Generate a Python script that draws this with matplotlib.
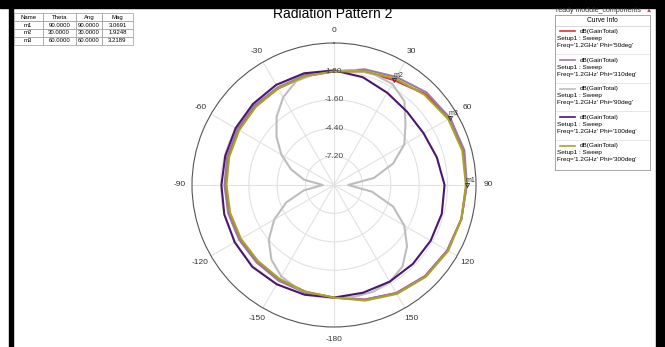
import numpy as np
import matplotlib.pyplot as plt
from matplotlib.patches import Rectangle

plt.rcParams['font.family'] = ['Liberation Sans', 'DejaVu Sans']

# angles in degrees, 0 at top, clockwise positive
ang15 = [-180, -165, -150, -135, -120, -105, -90, -75, -60, -45, -30, -15,
         0, 15, 30, 45, 60, 75, 90, 105, 120, 135, 150, 165, 180]
ang10 = list(range(-180, 181, 10))

# dB(GainTotal)
gain_phi50 = [1.1, 0.9, 0.8, 0.7, 0.7, 0.7, 0.7, 0.8, 0.9, 1.0, 1.0, 1.1,
              1.2, 1.6, 1.92, 2.7, 3.22, 3.2, 3.07, 3.0, 2.9, 2.7, 2.3, 1.7, 1.1]
gain_phi310 = [1.1, 1.0, 0.9, 0.8, 0.8, 0.8, 0.8, 0.9, 1.0, 1.1, 1.1, 1.2,
               1.2, 1.8, 2.3, 2.9, 3.2, 3.3, 3.1, 3.0, 2.9, 2.7, 2.3, 1.7, 1.1]
gain_phi90 = [1.1, 1.0, 0.8, 0.4, -0.4, -1.6, -3.2, -5.0, -7.0, -8.9, -7.0,
              -5.5, -4.0, -2.6, -1.2, 0.0, 0.9, 1.1, 1.2, 1.5, 1.6, 1.5, 0.8,
              -0.8, -2.0, -3.8, -6.0, -8.6, -6.2, -3.8, -2.0, -0.6, 0.5, 1.0,
              1.2, 1.2, 1.1]
gain_phi100 = [1.1, 1.2, 1.3, 1.4, 1.3, 1.2, 1.1, 1.1, 1.2, 1.3, 1.4, 1.4,
               1.3, 1.0, 0.5, 0.2, 0.2, 0.5, 0.9, 1.0, 1.0, 1.0, 1.0, 1.0, 1.1]
gain_phi300 = [1.1, 0.9, 0.7, 0.6, 0.6, 0.6, 0.6, 0.7, 0.8, 0.9, 1.0, 1.1,
               1.2, 1.6, 2.1, 2.6, 3.0, 3.1, 3.0, 3.0, 3.0, 2.8, 2.4, 1.8, 1.1]

marker_names = ['m1', 'm2', 'm3']
marker_theta = [90.0, 30.0, 60.0]
marker_mag = [3.0691, 1.9248, 3.2189]

rings = [-7.2, -4.4, -1.6, 1.2]
r_min, r_max = -10.0, 4.0

curves = [
    ("Phi='50deg'", ang15, gain_phi50, '#e0303a'),
    ("Phi='310deg'", ang15, gain_phi310, '#9c7aa0'),
    ("Phi='90deg'", ang10, gain_phi90, '#bdbdbd'),
    ("Phi='100deg'", ang15, gain_phi100, '#4a176e'),
    ("Phi='300deg'", ang15, gain_phi300, '#a9a22c'),
]

W, H = 665, 347
fig = plt.figure(figsize=(W / 100, H / 100), dpi=100)


def box(x0, y0, x1, y1):
    # pixel box (top-left origin) -> figure fraction rect
    return [x0 / W, 1 - y1 / H, (x1 - x0) / W, (y1 - y0) / H]


# screenshot frame
fig.patches.append(Rectangle((0, 1 - 8 / H), 1, 8 / H, transform=fig.transFigure,
                             color='black', zorder=-1))
fig.patches.append(Rectangle((9 / W, 0), 4 / W, 1, transform=fig.transFigure,
                             color='black', zorder=-1))
fig.patches.append(Rectangle((656 / W, 0), 9 / W, 1, transform=fig.transFigure,
                             color='black', zorder=-1))

ax = fig.add_axes(box(192, 43, 476, 327), projection='polar')
ax.set_theta_zero_location('N')
ax.set_theta_direction(-1)
ax.set_rlim(r_min, r_max)
ax.set_rticks(rings)
ax.set_yticklabels([])
major = np.arange(0, 360, 30)
ax.set_xticks(np.deg2rad(major))
ax.set_xticklabels([str(a if a <= 150 else a - 360) for a in major], fontsize=6,
                   color='#333333')
ax.set_xticks(np.deg2rad(np.arange(0, 360, 5)), minor=True)
ax.tick_params(axis='x', which='major', direction='out', length=4, width=0.7,
               color='#555555', pad=-2)
ax.tick_params(axis='x', which='minor', direction='out', length=2.2, width=0.6,
               color='#555555')
ax.grid(color='#e2e2e2', lw=0.8)
ax.spines['polar'].set_color('#555555')
ax.spines['polar'].set_linewidth(0.8)

for r in rings:
    ax.text(0, r, f'{r:.2f}', ha='center', va='center', fontsize=6,
            color='#444444', zorder=5)

# draw gray first, then the others on top
order = [2, 3, 1, 0, 4]
for i in order:
    lab, a, g, c = curves[i]
    ax.plot(np.deg2rad(a), g, color=c, lw=1.5, zorder=3 + i * 0.1)

for name, t, m in zip(marker_names, marker_theta, marker_mag):
    ax.plot(np.deg2rad(t), m, marker='v', ms=3, mfc='none', mec='#333333',
            mew=0.6, zorder=6)
    ax.annotate(name, (np.deg2rad(t), m), xytext=(-1, 2), textcoords='offset points',
                fontsize=5, color='#333333', zorder=6)

fig.text(333 / W, 1 - 14 / H, 'Radiation Pattern 2', ha='center', va='center',
         fontsize=10)

# marker table
ax_t = fig.add_axes(box(14, 13, 133, 45))
ax_t.axis('off')
cells = [[n, f'{t:.4f}', f'{t:.4f}', f'{m:.4f}']
         for n, t, m in zip(marker_names, marker_theta, marker_mag)]
tab = ax_t.table(cellText=cells, colLabels=['Name', 'Theta', 'Ang', 'Mag'],
                 bbox=[0, 0, 1, 1], cellLoc='center',
                 colWidths=[0.24, 0.28, 0.22, 0.26])
tab.auto_set_font_size(False)
tab.set_fontsize(4.3)
for c in tab.get_celld().values():
    c.set_edgecolor('#9a9a9a')
    c.set_linewidth(0.5)

# curve info box
fig.text(599 / W, 1 - 10.5 / H, 'ready module_components', ha='center', va='center',
         fontsize=5.0, color='#333333')
fig.text(649 / W, 1 - 10.5 / H, '\u25b2', ha='center', va='center', fontsize=4.5,
         color='#c84040')
ax_l = fig.add_axes(box(555, 15, 650, 170))
ax_l.set_xlim(555, 650)
ax_l.set_ylim(170, 15)
ax_l.set_xticks([])
ax_l.set_yticks([])
for s in ax_l.spines.values():
    s.set_color('#999999')
    s.set_linewidth(0.6)
ax_l.text(602, 21, 'Curve Info', ha='center', va='center', fontsize=4.8)
ax_l.axhline(26, color='#cccccc', lw=0.5)
for k, (lab, a, g, c) in enumerate(curves):
    top = 27 + k * 28.6
    ax_l.plot([560, 575], [top + 4.5, top + 4.5], color=c, lw=1.2)
    ax_l.text(580, top + 4.5, 'dB(GainTotal)', va='center', fontsize=4.6)
    ax_l.text(557, top + 11.5, 'Setup1 : Sweep', va='center', fontsize=4.6)
    ax_l.text(557, top + 18.5, "Freq='1.2GHz' " + lab, va='center', fontsize=4.6)
    if k < len(curves) - 1:
        ax_l.axhline(top + 27, color='#dddddd', lw=0.5)

fig.savefig('out.png', dpi=100)
